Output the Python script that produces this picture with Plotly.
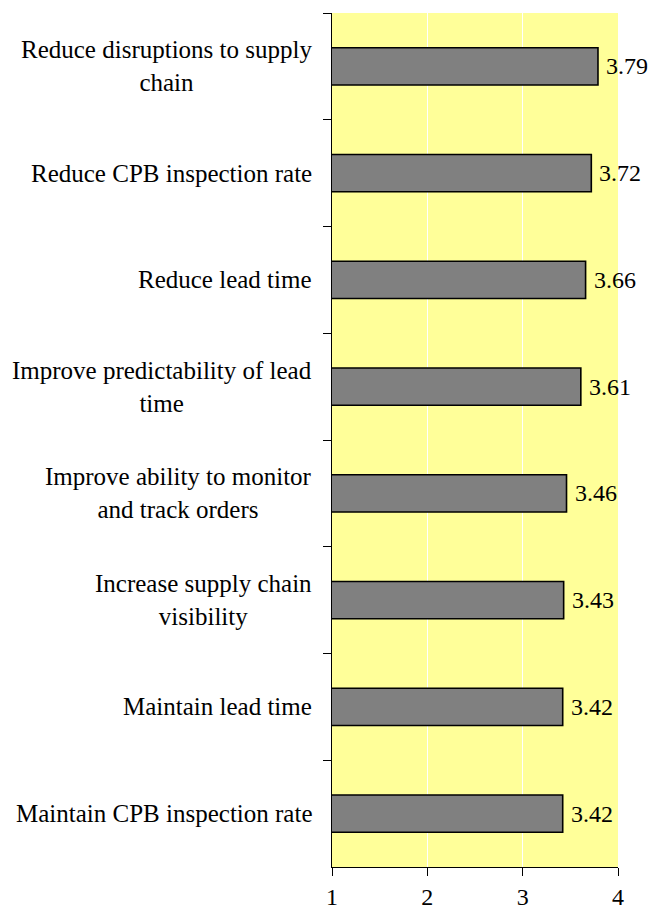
import plotly.graph_objects as go

categories = [
    "Reduce disruptions to supply<br>chain",
    "Reduce CPB inspection rate",
    "Reduce lead time",
    "Improve predictability of lead<br>time",
    "Improve ability to monitor<br>and track orders",
    "Increase supply chain<br>visibility",
    "Maintain lead time",
    "Maintain CPB inspection rate",
]
values = [3.79, 3.72, 3.66, 3.61, 3.46, 3.43, 3.42, 3.42]
x_ticks = [1, 2, 3, 4]

FONT = "Liberation Serif, Times New Roman, serif"
FS = 25

fig = go.Figure()
fig.add_trace(go.Bar(
    x=values,
    y=categories,
    orientation="h",
    width=0.35,
    marker=dict(color="#808080", line=dict(color="black", width=1.6)),
    hoverinfo="x+y",
))

annotations = []
for c, v in zip(categories, values):
    annotations.append(dict(
        x=v, y=c, xref="x", yref="y", text=f"{v:.2f}",
        showarrow=False, xanchor="left", yanchor="middle", xshift=6,
        font=dict(family=FONT, size=24, color="black"),
    ))
    annotations.append(dict(
        x=0, y=c, xref="paper", yref="y", text=c,
        showarrow=False, xanchor="right", yanchor="middle", align="center",
        xshift=-18,
        font=dict(family=FONT, size=FS, color="black"),
    ))

fig.update_layout(
    width=650, height=909,
    margin=dict(l=332, r=32, t=13, b=42, autoexpand=False),
    paper_bgcolor="white",
    plot_bgcolor="#FFFF99",
    showlegend=False,
    font=dict(family=FONT, size=FS, color="black"),
    annotations=annotations,
    bargap=0.65,
)
fig.update_xaxes(
    range=[1, 4],
    tickvals=x_ticks,
    ticktext=[str(t) for t in x_ticks],
    showgrid=True, gridcolor="white", gridwidth=1,
    showline=True, linecolor="black", linewidth=1,
    ticks="outside", ticklen=8, tickcolor="black", tickwidth=1,
    ticklabelstandoff=0,
    zeroline=False, automargin=False,
    tickfont=dict(family=FONT, size=24, color="black"),
)
fig.update_yaxes(
    type="category",
    categoryorder="array", categoryarray=categories,
    autorange="reversed",
    showticklabels=False,
    showgrid=False,
    showline=True, linecolor="black", linewidth=1,
    ticks="outside", tickson="boundaries", ticklen=8, tickcolor="black", tickwidth=1,
    zeroline=False, automargin=False,
)

# remove the default 8px page margin so the 650x909 figure fills the window exactly
fig.write_html(
    "out.html",
    config={"displayModeBar": False},
    post_script="document.body.style.margin='0';document.body.style.overflow='hidden';",
)
